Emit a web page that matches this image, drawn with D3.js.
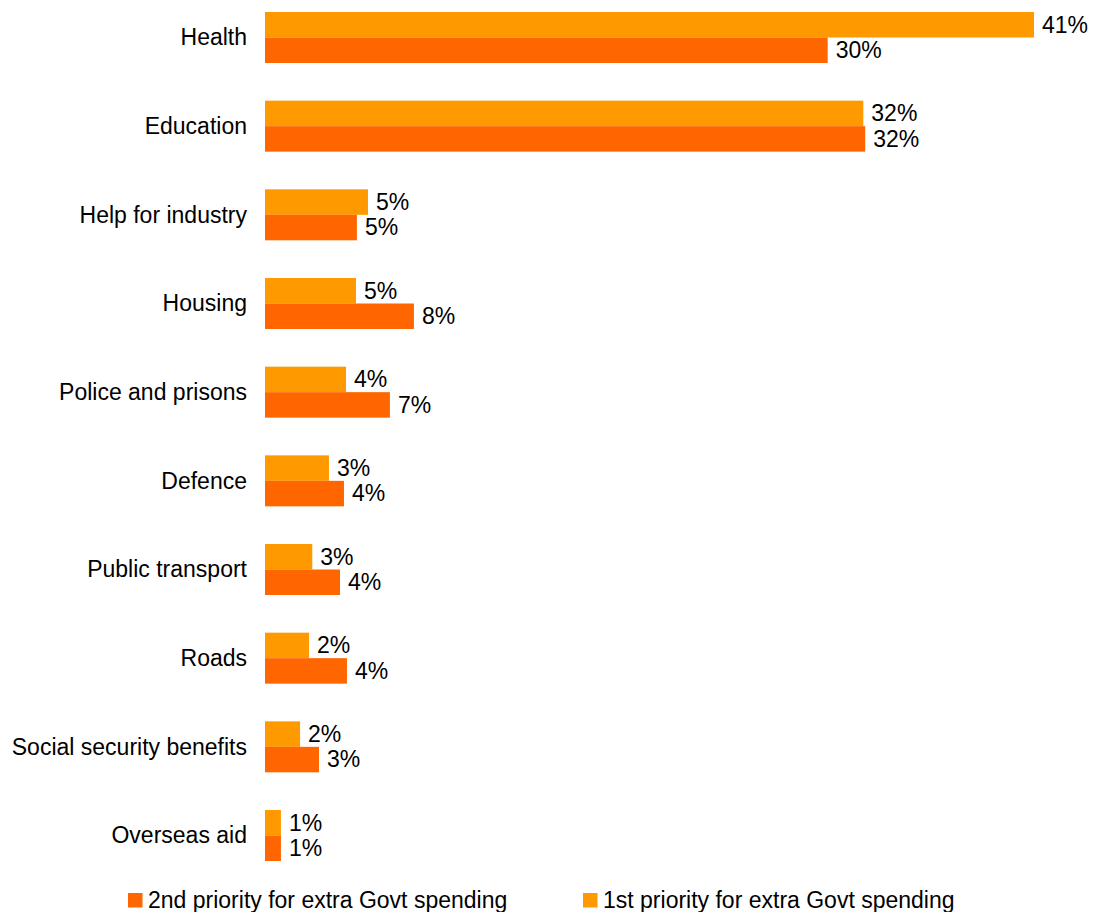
<!DOCTYPE html>
<html>
<head>
<meta charset="utf-8">
<script src="https://cdn.jsdelivr.net/npm/d3@7"></script>
<style>
  html, body { margin: 0; padding: 0; background: #fff; }
  svg { display: block; font-family: Arial, "Liberation Sans", sans-serif; }
</style>
</head>
<body>
<svg id="chart" width="1093" height="912"></svg>
<script>
const categories = ["Health", "Education", "Help for industry", "Housing", "Police and prisons",
  "Defence", "Public transport", "Roads", "Social security benefits", "Overseas aid"];
const series = ["1st priority for extra Govt spending", "2nd priority for extra Govt spending"];
const firstPriority  = [41.0, 31.9, 5.49, 4.85, 4.32, 3.41, 2.52, 2.35, 1.87, 0.85];
const secondPriority = [30.0, 32.0, 4.90, 7.94, 6.66, 4.21, 4.00, 4.37, 2.88, 0.85];
const colors = ["#FF9900", "#FF6600"];
const legendOrder = [1, 0];

const svg = d3.select("#chart");
const fontSize = 23;

const x = d3.scaleLinear().domain([0, 41]).range([265, 1034]);
const y = d3.scaleBand().domain(categories).range([12, 861]).paddingInner(0.425).paddingOuter(0);
const ySub = d3.scaleBand().domain(series).range([0, y.bandwidth()]);
const color = d3.scaleOrdinal().domain(series).range(colors);

const rows = categories.map((c, i) => ({
  cat: c,
  vals: [
    { s: series[0], v: firstPriority[i] },
    { s: series[1], v: secondPriority[i] }
  ]
}));

const g = svg.selectAll("g.cat").data(rows).join("g")
  .attr("class", "cat")
  .attr("transform", d => `translate(0,${y(d.cat)})`);

g.selectAll("rect").data(d => d.vals).join("rect")
  .attr("x", x(0))
  .attr("y", d => ySub(d.s))
  .attr("width", d => x(d.v) - x(0))
  .attr("height", ySub.bandwidth())
  .attr("fill", d => color(d.s));

g.selectAll("text.val").data(d => d.vals).join("text")
  .attr("class", "val")
  .attr("x", d => x(d.v) + 8)
  .attr("y", d => ySub(d.s) + ySub.bandwidth() / 2)
  .attr("dy", "0.34em")
  .attr("font-size", fontSize)
  .attr("fill", "#000")
  .text(d => d3.format(".0f")(d.v) + "%");

// category axis labels
const yAxis = d3.axisLeft(y).tickSize(0).tickPadding(0);
const ax = svg.append("g").attr("transform", "translate(247,0)").call(yAxis);
ax.select(".domain").remove();
ax.selectAll("text")
  .attr("font-size", fontSize)
  .attr("font-family", "Arial, 'Liberation Sans', sans-serif")
  .attr("fill", "#000")
  .attr("dy", "0.34em");

// legend
const legendX = [128, 583];
const lg = svg.selectAll("g.leg").data(legendOrder).join("g")
  .attr("class", "leg")
  .attr("transform", (d, i) => `translate(${legendX[i]},893)`);
lg.append("rect").attr("width", 14.5).attr("height", 14.5).attr("fill", d => colors[d]);
lg.append("text").attr("x", 20).attr("y", 14.7)
  .attr("font-size", fontSize).attr("fill", "#000")
  .text(d => series[d]);
</script>
</body>
</html>
